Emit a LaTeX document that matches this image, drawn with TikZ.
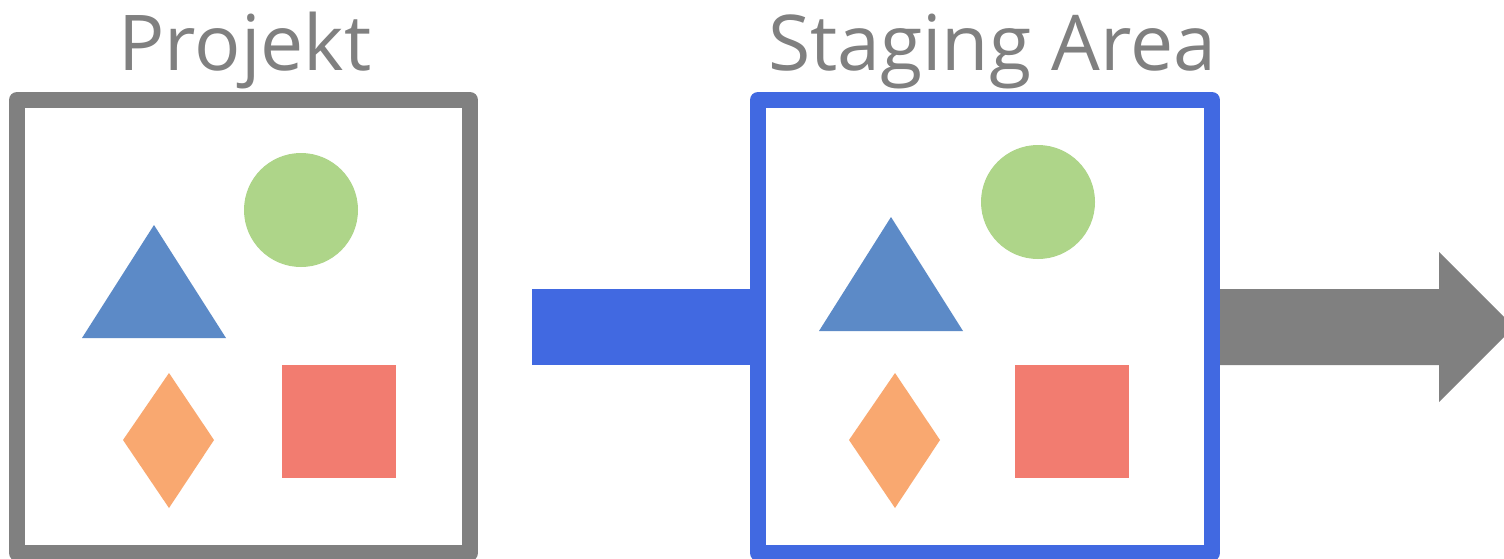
\documentclass[tikz,border=0pt]{standalone}
\usepackage{fontspec}
\setmainfont{Open Sans}
\definecolor{boxgray}{RGB}{128,128,128}
\definecolor{royal}{RGB}{65,105,225}
\definecolor{shgreen}{RGB}{174,213,137}
\definecolor{shblue}{RGB}{92,138,199}
\definecolor{shorange}{RGB}{249,168,112}
\definecolor{shred}{RGB}{242,124,112}
\tikzset{
  frame/.style={line width=16pt, line join=round},
  title/.style={anchor=base, text=boxgray, font=\fontsize{77}{80}\selectfont, inner sep=0pt},
}
\begin{document}
\begin{tikzpicture}[x=1pt,y=-1pt]
\useasboundingbox (0,0) rectangle (1504,558);
% connectors
\fill[royal] (532,289) rectangle (752,365);
\fill[boxgray] (1218,289) -- (1439,289) -- (1439,252) -- (1514,327) -- (1439,402) -- (1439,365) -- (1218,365) -- cycle;
% project box
\draw[frame, boxgray, fill=white] (17,100) rectangle (470,553);
\fill[shgreen] (301,210) circle (57);
\fill[shblue] (154,225) -- (226,338) -- (82,338) -- cycle;
\fill[shorange] (169,373) -- (214,440) -- (169,508) -- (123,440) -- cycle;
\fill[shred] (282,365) rectangle (396,478);
% staging box
\draw[frame, royal, fill=white] (758,100) rectangle (1212,553);
\fill[shgreen] (1038,202) circle (57);
\fill[shblue] (891,217) -- (963,331) -- (819,331) -- cycle;
\fill[shorange] (895,373) -- (940,440) -- (895,508) -- (849,440) -- cycle;
\fill[shred] (1015,365) rectangle (1129,478);
% titles
\node[title] (t1) at (245,70) {Projekt};
\node[title] (t2) at (992,70) {Staging Area};
\end{tikzpicture}
\end{document}
